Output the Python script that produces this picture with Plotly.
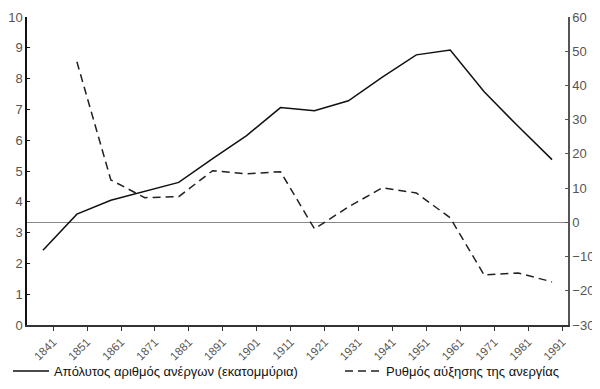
import plotly.graph_objects as go

years = [1841, 1851, 1861, 1871, 1881, 1891, 1901, 1911, 1921, 1931, 1941, 1951, 1961, 1971, 1981, 1991]
tick_labels = [str(y) for y in years]
unemployed = [2.43, 3.6, 4.05, 4.35, 4.63, 5.4, 6.15, 7.06, 6.96, 7.28, 8.05, 8.77, 8.93, 7.57, 6.45, 5.37]
growth = [None, 46.9, 12.4, 7.2, 7.5, 15.1, 14.2, 14.8, -1.9, 4.5, 10.1, 8.6, 1.3, -15.4, -14.8, -17.4]

name1 = "Απόλυτος αριθμός ανέργων (εκατομμύρια)"
name2 = "Ρυθμός αύξησης της ανεργίας"

font = "Liberation Sans, Arial, sans-serif"

W, H = 592, 381  # page body has an 8px margin

fig = go.Figure()
fig.add_trace(go.Scatter(x=years, y=unemployed, mode="lines", name=name1,
                         line=dict(color="#111111", width=1.5), legend="legend"))
fig.add_trace(go.Scatter(x=years, y=growth, mode="lines", name=name2, yaxis="y2",
                         line=dict(color="#222222", width=1.5, dash="8px,5px"),
                         legend="legend2"))

legend_common = dict(orientation="h", xref="container", yref="container",
                     xanchor="left", yanchor="middle", bgcolor="rgba(0,0,0,0)",
                     font=dict(family=font, size=13, color="#111111"),
                     itemwidth=36)

fig.update_layout(
    width=W, height=H,
    margin=dict(l=19, r=32, t=9, b=64, autoexpand=False),
    paper_bgcolor="white", plot_bgcolor="white",
    font=dict(family=font, size=12, color="#444444"),
    showlegend=True,
    legend=dict(x=0.0, y=18 / H, **legend_common),
    legend2=dict(x=332 / W, y=18 / H, **legend_common),
    xaxis=dict(range=[1836.3, 1995.7], tickmode="array",
               tickvals=[y + 3 for y in years], ticktext=tick_labels,
               tickangle=-45, ticks="outside", ticklen=4, tickcolor="#333333",
               showline=True, linecolor="#333333", linewidth=1.5,
               showgrid=False, zeroline=False, automargin=False,
               tickfont=dict(size=11.5, color="#555555")),
    yaxis=dict(range=[0, 10], dtick=1, ticks="inside", ticklen=3, tickcolor="#111111",
               showline=True, linecolor="#111111", linewidth=1.5,
               showgrid=False, zeroline=False, automargin=False,
               tickfont=dict(size=13, color="#555555")),
    yaxis2=dict(range=[-30, 60], dtick=10, overlaying="y", side="right",
                ticks="inside", ticklen=3, tickcolor="#555555",
                showline=True, linecolor="#555555", linewidth=1.5,
                showgrid=False, zeroline=True, zerolinecolor="#888888", zerolinewidth=1,
                automargin=False,
                tickfont=dict(size=13, color="#555555")),
)

fig.write_html("out.html")
